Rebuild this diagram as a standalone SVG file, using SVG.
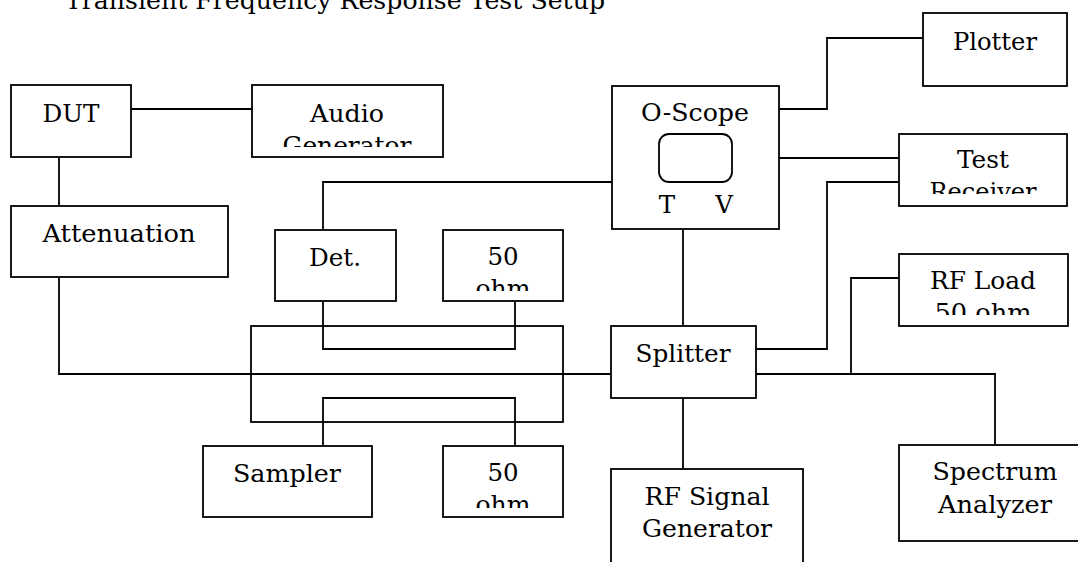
<svg xmlns="http://www.w3.org/2000/svg" width="1078" height="562" viewBox="0 0 1078 562">
<style>
.box{fill:#fff;stroke:#000;stroke-width:1.8}
.wire{fill:none;stroke:#000;stroke-width:1.8}
text{font-family:"DejaVu Serif","Liberation Serif",serif;font-size:24.5px;fill:#000;text-anchor:middle}
</style>
<defs>
<clipPath id="cAudio"><rect x="252" y="85" width="191" height="62"/></clipPath>
<clipPath id="cTest"><rect x="899" y="134" width="168" height="60"/></clipPath>
<clipPath id="cOhm1"><rect x="443" y="230" width="120" height="61"/></clipPath>
<clipPath id="cLoad"><rect x="899" y="254" width="169" height="61"/></clipPath>
<clipPath id="cOhm2"><rect x="443" y="446" width="120" height="62"/></clipPath>
</defs>
<rect width="1078" height="562" fill="#fff"/>
<text id="title" x="335" y="9" textLength="540" lengthAdjust="spacingAndGlyphs">Transient Frequency Response Test Setup</text>

<g id="connectors">
<path class="wire" d="M131 109H252"/>
<path class="wire" d="M59 157V206"/>
<path class="wire" d="M59 277V374H611"/>
<path class="wire" d="M323 230V182H612"/>
<path class="wire" d="M323 301V349H515V301"/>
<path class="wire" d="M323 446V398H515V446"/>
<path class="wire" d="M779 109H827V38H923"/>
<path class="wire" d="M779 158H899"/>
<path class="wire" d="M756 349H827V182H899"/>
<path class="wire" d="M683 229V326"/>
<path class="wire" d="M756 374H995V445"/>
<path class="wire" d="M851 374V278H899"/>
<path class="wire" d="M683 398V469"/>
</g>

<g id="coupler"><rect class="box" x="251" y="326" width="312" height="96" style="fill:none"/></g>

<g id="dut"><rect class="box" x="11" y="85" width="120" height="72"/><text x="71" y="122" textLength="57" lengthAdjust="spacingAndGlyphs">DUT</text></g>
<g id="audio-generator"><rect class="box" x="252" y="85" width="191" height="72"/>
<g clip-path="url(#cAudio)"><text x="347" y="122" textLength="74" lengthAdjust="spacingAndGlyphs">Audio</text><text x="347" y="154" textLength="129" lengthAdjust="spacingAndGlyphs">Generator</text></g></g>
<g id="attenuation"><rect class="box" x="11" y="206" width="217" height="71"/><text x="119" y="242" textLength="153" lengthAdjust="spacingAndGlyphs">Attenuation</text></g>
<g id="det"><rect class="box" x="275" y="230" width="121" height="71"/><text x="335" y="266" textLength="52" lengthAdjust="spacingAndGlyphs">Det.</text></g>
<g id="ohm-top"><rect class="box" x="443" y="230" width="120" height="71"/>
<g clip-path="url(#cOhm1)"><text x="503" y="265">50</text><text x="503" y="297" textLength="55" lengthAdjust="spacingAndGlyphs">ohm</text></g></g>
<g id="sampler"><rect class="box" x="203" y="446" width="169" height="71"/><text x="287" y="482" textLength="108" lengthAdjust="spacingAndGlyphs">Sampler</text></g>
<g id="ohm-bottom"><rect class="box" x="443" y="446" width="120" height="71"/>
<g clip-path="url(#cOhm2)"><text x="503" y="481">50</text><text x="503" y="513" textLength="55" lengthAdjust="spacingAndGlyphs">ohm</text></g></g>
<g id="o-scope"><rect class="box" x="612" y="86" width="167" height="143"/><text x="695" y="121" textLength="108" lengthAdjust="spacingAndGlyphs">O-Scope</text>
<rect x="659" y="134" width="73" height="48" rx="10" fill="none" stroke="#000" stroke-width="1.8"/>
<text x="667" y="213">T</text><text x="724" y="213">V</text></g>
<g id="plotter"><rect class="box" x="923" y="13" width="144" height="73"/><text x="995" y="50" textLength="84" lengthAdjust="spacingAndGlyphs">Plotter</text></g>
<g id="test-receiver"><rect class="box" x="899" y="134" width="168" height="72"/>
<g clip-path="url(#cTest)"><text x="983" y="168" textLength="52" lengthAdjust="spacingAndGlyphs">Test</text><text x="983" y="200" textLength="107" lengthAdjust="spacingAndGlyphs">Receiver</text></g></g>
<g id="splitter"><rect class="box" x="611" y="326" width="145" height="72"/><text x="683" y="362" textLength="95" lengthAdjust="spacingAndGlyphs">Splitter</text></g>
<g id="rf-load"><rect class="box" x="899" y="254" width="169" height="72"/>
<g clip-path="url(#cLoad)"><text x="983" y="289" textLength="106" lengthAdjust="spacingAndGlyphs">RF Load</text><text x="983" y="321" textLength="97" lengthAdjust="spacingAndGlyphs">50 ohm</text></g></g>
<g id="rf-signal-generator"><rect class="box" x="611" y="469" width="192" height="110"/><text x="707" y="505" textLength="125" lengthAdjust="spacingAndGlyphs">RF Signal</text><text x="707" y="537" textLength="130" lengthAdjust="spacingAndGlyphs">Generator</text></g>
<g id="spectrum-analyzer"><rect class="box" x="899" y="445" width="192" height="96"/><text x="995" y="480" textLength="125" lengthAdjust="spacingAndGlyphs">Spectrum</text><text x="995" y="513" textLength="114" lengthAdjust="spacingAndGlyphs">Analyzer</text></g>
</svg>
